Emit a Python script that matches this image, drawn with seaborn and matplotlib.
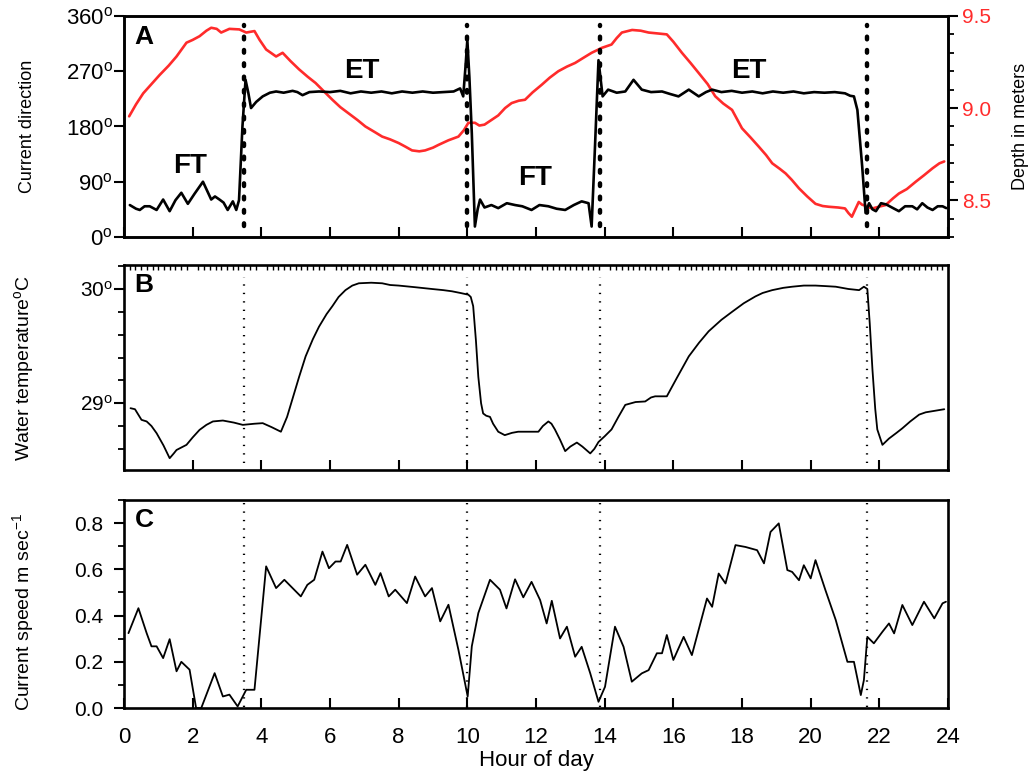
import numpy as np
import pandas as pd
import matplotlib
matplotlib.use("Agg")
import matplotlib.pyplot as plt
from matplotlib.ticker import MultipleLocator
import seaborn as sns

# ---- data ----
dir_hour = [0.17, 0.35, 0.46, 0.6, 0.75, 0.95, 1.14, 1.33, 1.5, 1.67, 1.86, 2.05, 2.3, 2.54, 2.65,
            2.78, 2.9, 3.02, 3.17, 3.27, 3.35, 3.45, 3.54, 3.62, 3.7, 3.85, 4.04, 4.25, 4.43, 4.65,
            4.91, 5.05, 5.2, 5.4, 5.68, 6.0, 6.3, 6.6, 6.9, 7.2, 7.5, 7.8, 8.1, 8.4, 8.7, 9.0, 9.3,
            9.6, 9.79, 9.88, 9.95, 10.0, 10.06, 10.13, 10.22, 10.3, 10.37, 10.5, 10.7, 10.9, 11.15,
            11.39, 11.6, 11.87, 12.1, 12.36, 12.6, 12.85, 13.1, 13.33, 13.53, 13.62, 13.72, 13.82,
            13.94, 14.1, 14.35, 14.6, 14.84, 15.08, 15.35, 15.67, 15.9, 16.15, 16.45, 16.74, 16.95,
            17.13, 17.4, 17.7, 18.0, 18.3, 18.6, 18.9, 19.2, 19.5, 19.8, 20.1, 20.4, 20.7, 21.0,
            21.15, 21.26, 21.36, 21.5, 21.6, 21.7, 21.8, 21.9, 22.05, 22.2, 22.4, 22.57, 22.75,
            22.96, 23.1, 23.25, 23.4, 23.55, 23.7, 23.84, 23.95]
dir_deg = [52, 46, 44, 50, 50, 44, 61, 42, 60, 72, 54, 70, 90, 61, 66,
           61, 56, 44, 58, 44, 60, 180, 256, 235, 210, 220, 229, 235, 237, 235,
           238, 236, 231, 236, 237, 236, 238, 234, 237, 235, 237, 234, 237, 235, 237, 235, 236,
           237, 242, 229, 280, 321, 260, 169, 17, 45, 61, 48, 52, 47, 55,
           52, 50, 44, 52, 50, 46, 44, 52, 58, 55, 17, 150, 288,
           229, 240, 235, 237, 256, 240, 236, 237, 233, 229, 240, 229, 236,
           240, 236, 238, 235, 237, 234, 237, 235, 237, 234, 236, 235, 236, 234,
           230, 229, 207, 115, 39, 55, 45, 42, 55, 53, 47, 42, 50,
           50, 45, 55, 48, 44, 50, 50, 47]

depth_hour = [0.15, 0.35, 0.56, 0.8, 1.04, 1.3, 1.53, 1.82, 2.0, 2.2, 2.4, 2.54, 2.7, 2.83, 3.07,
              3.36, 3.56, 3.8, 3.95, 4.14, 4.43, 4.62, 4.85, 5.1, 5.35, 5.58, 5.8, 6.07, 6.3, 6.55,
              6.8, 7.03, 7.3, 7.52, 7.75, 8.0, 8.2, 8.39, 8.6, 8.77, 9.0, 9.16, 9.45, 9.74, 9.9,
              10.03, 10.22, 10.35, 10.5, 10.7, 10.9, 11.1, 11.29, 11.5, 11.68, 11.9, 12.17, 12.4,
              12.65, 12.9, 13.14, 13.4, 13.62, 13.92, 14.2, 14.35, 14.5, 14.8, 15.05, 15.28, 15.55,
              15.81, 16.0, 16.25, 16.5, 16.74, 17.0, 17.22, 17.45, 17.71, 18.0, 18.25, 18.49, 18.7,
              18.88, 19.1, 19.27, 19.45, 19.66, 19.9, 20.14, 20.35, 20.53, 20.8, 21.0, 21.1, 21.2,
              21.3, 21.4, 21.5, 21.6, 21.7, 21.8, 22.0, 22.18, 22.4, 22.57, 22.8, 23.06, 23.3,
              23.55, 23.75, 23.89]
depth_m = [8.955, 9.02, 9.08, 9.13, 9.18, 9.23, 9.28, 9.355, 9.37, 9.39, 9.42, 9.436, 9.43, 9.41, 9.43,
           9.427, 9.41, 9.418, 9.37, 9.318, 9.28, 9.3, 9.255, 9.21, 9.17, 9.136, 9.095, 9.045, 9.005, 8.97,
           8.935, 8.9, 8.87, 8.845, 8.83, 8.81, 8.79, 8.77, 8.765, 8.77, 8.785, 8.8, 8.825, 8.845, 8.88,
           8.92, 8.92, 8.905, 8.91, 8.935, 8.96, 9.0, 9.027, 9.04, 9.045, 9.085, 9.127, 9.165,
           9.2, 9.225, 9.245, 9.275, 9.3, 9.327, 9.345, 9.38, 9.41, 9.424, 9.42, 9.41, 9.405,
           9.4, 9.36, 9.3, 9.245, 9.19, 9.13, 9.064, 9.025, 8.99, 8.89, 8.84, 8.79, 8.745,
           8.7, 8.67, 8.645, 8.61, 8.564, 8.52, 8.48, 8.468, 8.464, 8.46, 8.455, 8.43, 8.41,
           8.45, 8.49, 8.475, 8.47, 8.46, 8.455, 8.465, 8.473, 8.51, 8.536, 8.56, 8.6, 8.635,
           8.673, 8.7, 8.71]

temp_hour = [0.19, 0.32, 0.51, 0.66, 0.8, 0.95, 1.15, 1.33, 1.45, 1.53, 1.82, 2.0, 2.2, 2.4, 2.59,
             2.88, 3.2, 3.46, 3.8, 4.04, 4.3, 4.57, 4.75, 4.9, 5.1, 5.29, 5.5, 5.68, 5.9, 6.07, 6.25,
             6.45, 6.65, 6.84, 7.2, 7.52, 7.75, 8.0, 8.5, 8.97, 9.3, 9.55, 9.8, 10.03, 10.1, 10.17,
             10.25, 10.32, 10.4, 10.46, 10.55, 10.66, 10.75, 10.9, 11.09, 11.3, 11.48, 11.8, 12.07,
             12.2, 12.36, 12.45, 12.55, 12.7, 12.85, 13.0, 13.19, 13.35, 13.58, 13.7, 13.82, 14.0,
             14.2, 14.4, 14.6, 14.9, 15.18, 15.35, 15.47, 15.81, 16.1, 16.45, 16.75, 17.03, 17.4,
             17.71, 18.05, 18.39, 18.6, 18.88, 19.2, 19.46, 19.8, 20.14, 20.45, 20.73, 21.1, 21.41,
             21.55, 21.65, 21.72, 21.8, 21.88, 21.94, 22.09, 22.28, 22.5, 22.67, 22.9, 23.16, 23.35,
             23.55, 23.89]
temp_c = [28.956, 28.947, 28.854, 28.84, 28.8, 28.737, 28.63, 28.518, 28.56, 28.59, 28.635, 28.7, 28.766, 28.81, 28.84,
          28.848, 28.83, 28.81, 28.82, 28.825, 28.79, 28.75, 28.88, 29.03, 29.23, 29.41, 29.56, 29.67, 29.78, 29.85, 29.93,
          29.99, 30.03, 30.05, 30.055, 30.05, 30.035, 30.03, 30.015, 30.0, 29.99, 29.98, 29.965, 29.95, 29.93, 29.85,
          29.55, 29.23, 29.0, 28.91, 28.89, 28.88, 28.82, 28.75, 28.72, 28.74, 28.75, 28.75, 28.75,
          28.8, 28.84, 28.82, 28.77, 28.68, 28.58, 28.62, 28.655, 28.62, 28.56, 28.6, 28.66, 28.71,
          28.77, 28.88, 28.985, 29.01, 29.015, 29.05, 29.06, 29.06, 29.22, 29.41, 29.53, 29.63, 29.73,
          29.8, 29.875, 29.935, 29.965, 29.99, 30.01, 30.02, 30.03, 30.03, 30.025, 30.02, 30.0, 29.99,
          30.02, 30.0, 29.7, 29.29, 28.95, 28.77, 28.635, 28.69, 28.74, 28.78, 28.84, 28.9, 28.92,
          28.93, 28.947]

speed_hour = [0.13, 0.42, 0.66, 0.8, 0.95, 1.14, 1.33, 1.53, 1.67, 1.91, 2.1, 2.25, 2.64, 2.88, 3.07,
              3.31, 3.56, 3.8, 4.14, 4.43, 4.67, 4.91, 5.15, 5.34, 5.54, 5.78, 5.97, 6.16, 6.31, 6.5,
              6.79, 7.03, 7.32, 7.47, 7.71, 7.9, 8.24, 8.48, 8.77, 8.97, 9.21, 9.45, 9.74, 10.01,
              10.13, 10.32, 10.66, 10.95, 11.14, 11.39, 11.63, 11.87, 12.12, 12.31, 12.46, 12.7, 12.9,
              13.14, 13.33, 13.58, 13.82, 14.01, 14.3, 14.55, 14.79, 15.08, 15.28, 15.52, 15.67, 15.81,
              16.0, 16.3, 16.54, 16.98, 17.13, 17.32, 17.52, 17.81, 18.1, 18.44, 18.64, 18.83, 19.07,
              19.32, 19.46, 19.66, 19.8, 20.0, 20.14, 20.43, 20.73, 21.07, 21.26, 21.46, 21.55, 21.65,
              21.84, 22.09, 22.28, 22.43, 22.67, 22.96, 23.3, 23.6, 23.84, 23.94]
speed_ms = [0.324, 0.432, 0.324, 0.267, 0.267, 0.216, 0.298, 0.159, 0.2, 0.166, 0.0, 0.0, 0.151, 0.05, 0.058,
            0.007, 0.079, 0.079, 0.613, 0.519, 0.555, 0.519, 0.483, 0.533, 0.555, 0.677, 0.605, 0.634, 0.634, 0.706,
            0.577, 0.62, 0.533, 0.584, 0.483, 0.512, 0.454, 0.569, 0.483, 0.519, 0.375, 0.447, 0.252, 0.05,
            0.267, 0.411, 0.555, 0.512, 0.431, 0.557, 0.479, 0.546, 0.467, 0.366, 0.464, 0.301, 0.352,
            0.222, 0.265, 0.15, 0.027, 0.092, 0.352, 0.265, 0.114, 0.15, 0.164, 0.237, 0.237, 0.316,
            0.208, 0.308, 0.229, 0.474, 0.438, 0.582, 0.539, 0.705, 0.697, 0.683, 0.626, 0.762, 0.799,
            0.597, 0.589, 0.553, 0.618, 0.561, 0.64, 0.51, 0.381, 0.2, 0.2, 0.056, 0.121, 0.308,
            0.28, 0.33, 0.366, 0.323, 0.446, 0.359, 0.46, 0.388, 0.453, 0.46]

tide_change_hours = [3.5, 10.0, 13.85, 21.65]
tide_labels = ["FT", "ET", "FT", "ET"]
tide_label_hour = [1.92, 6.92, 11.97, 18.19]
tide_label_deg = [115, 270, 96, 270]

hour_ticks = list(range(0, 25, 2))
dir_ticks = [0, 90, 180, 270, 360]
dir_ticklabels = ["0$^{\\mathrm{o}}$", "90$^{\\mathrm{o}}$", "180$^{\\mathrm{o}}$",
                  "270$^{\\mathrm{o}}$", "360$^{\\mathrm{o}}$"]
depth_ticks = [8.5, 9.0, 9.5]
temp_ticks = [29, 30]
temp_ticklabels = ["29$^{\\mathrm{o}}$", "30$^{\\mathrm{o}}$"]
speed_ticks = [0.0, 0.2, 0.4, 0.6, 0.8]

dir_df = pd.DataFrame({"hour": dir_hour, "deg": dir_deg})
depth_df = pd.DataFrame({"hour": depth_hour, "depth": depth_m})
temp_df = pd.DataFrame({"hour": temp_hour, "temp": temp_c})
speed_df = pd.DataFrame({"hour": speed_hour, "speed": speed_ms})

# ---- style ----
sns.set_style("ticks")
plt.rcParams["font.family"] = ["Liberation Sans", "DejaVu Sans"]
plt.rcParams["mathtext.fontset"] = "custom"
plt.rcParams["mathtext.rm"] = "Liberation Sans"
plt.rcParams["mathtext.it"] = "Liberation Sans:italic"
plt.rcParams["mathtext.bf"] = "Liberation Sans:bold"
plt.rcParams["axes.linewidth"] = 1.9
plt.rcParams["text.color"] = "black"
plt.rcParams["axes.labelcolor"] = "black"
plt.rcParams["xtick.color"] = "black"
plt.rcParams["ytick.color"] = "black"

red = "#ff2b2b"
fig = plt.figure(figsize=(10.29, 7.79), dpi=100)
axA = fig.add_axes([0.1205, 0.6958, 0.8008, 0.2837])
axB = fig.add_axes([0.1205, 0.3967, 0.8008, 0.2631])
axC = fig.add_axes([0.1205, 0.0911, 0.8008, 0.2670])

for ax in (axA, axB, axC):
    ax.set_xlim(0, 24)
    ax.set_xticks(hour_ticks)
    ax.tick_params(axis="x", which="major", direction="in", length=7, width=1.5,
                   bottom=True, top=False, labelsize=16, pad=14)
    ax.tick_params(axis="y", which="major", direction="out", length=7, width=1.5)
    ax.tick_params(axis="y", which="minor", direction="out", length=4.5, width=1.3)
    for s in ax.spines.values():
        s.set_visible(True)
        s.set_color("black")

# Panel A
sns.lineplot(data=dir_df, x="hour", y="deg", ax=axA, color="black", linewidth=1.9)
axA.set_ylim(0, 360)
axA.set_yticks(dir_ticks)
axA.set_yticklabels(dir_ticklabels)
axA.tick_params(axis="y", labelsize=16, pad=1)
axA.tick_params(axis="x", labelbottom=False)
axA.set_xlabel("")
axA.set_ylabel("Current direction", fontsize=13)
axA.yaxis.set_label_coords(-0.107, 0.5)
for h in tide_change_hours:
    axA.axvline(h, ymin=0.05, ymax=0.96, color="black", linewidth=3.2,
                linestyle=(0, (0.6, 2.4)), dash_capstyle="round")
for lab, hx, dy in zip(tide_labels, tide_label_hour, tide_label_deg):
    axA.text(hx, dy, lab, ha="center", va="center", fontsize=20, fontweight="bold")
axA.text(0.013, 0.96, "A", transform=axA.transAxes, ha="left", va="top",
         fontsize=19, fontweight="bold")

axA2 = axA.twinx()
sns.lineplot(data=depth_df, x="hour", y="depth", ax=axA2, color=red, linewidth=1.9)
axA2.set_ylim(8.30, 9.5)
axA2.set_yticks(depth_ticks)
axA2.set_yticklabels([f"{v:.1f}" for v in depth_ticks])
axA2.yaxis.set_minor_locator(MultipleLocator(0.1))
axA2.tick_params(axis="y", which="major", direction="out", length=7, width=1.5,
                 labelsize=15, labelcolor=red, pad=3)
axA2.tick_params(axis="y", which="minor", direction="out", length=4.5, width=1.3)
axA2.set_ylabel("Depth in meters", fontsize=13)
axA2.yaxis.set_label_coords(1.078, 0.5)
axA.set_zorder(axA2.get_zorder() + 1)
axA.patch.set_visible(False)

# Panel B
sns.lineplot(data=temp_df, x="hour", y="temp", ax=axB, color="black", linewidth=1.3)
axB.set_ylim(28.415, 30.21)
axB.set_yticks(temp_ticks)
axB.set_yticklabels(temp_ticklabels)
axB.yaxis.set_minor_locator(MultipleLocator(0.2))
axB.xaxis.set_minor_locator(MultipleLocator(1 / 6))
axB.tick_params(axis="x", which="minor", direction="in", length=3.5, width=1.0,
                bottom=False, top=True)
axB.tick_params(axis="y", labelsize=15, pad=1)
axB.tick_params(axis="x", labelbottom=False)
axB.set_xlabel("")
axB.set_ylabel("Water temperature$^{\\mathrm{o}}$C", fontsize=14)
axB.yaxis.set_label_coords(-0.107, 0.5)
for h in tide_change_hours:
    axB.axvline(h, ymin=0.035, ymax=0.94, color="black", linewidth=1.6,
                linestyle=(0, (0.6, 3.2)))
axB.text(0.013, 0.96, "B", transform=axB.transAxes, ha="left", va="top",
         fontsize=19, fontweight="bold")

# Panel C
sns.lineplot(data=speed_df, x="hour", y="speed", ax=axC, color="black", linewidth=1.3)
axC.set_ylim(0, 0.9)
axC.set_yticks(speed_ticks)
axC.set_yticklabels([f"{v:.1f}" for v in speed_ticks])
axC.yaxis.set_minor_locator(MultipleLocator(0.1))
axC.tick_params(axis="y", labelsize=15, pad=8)
axC.set_xticklabels([str(h) for h in hour_ticks])
axC.set_ylabel("Current speed m sec$^{\\mathrm{-1}}$", fontsize=14)
axC.yaxis.set_label_coords(-0.107, 0.46)
axC.set_xlabel("Hour of day", fontsize=16)
axC.xaxis.set_label_coords(0.5, -0.2)
for h in tide_change_hours:
    axC.axvline(h, ymin=0.005, ymax=0.985, color="black", linewidth=1.6,
                linestyle=(0, (0.6, 3.2)))
axC.text(0.013, 0.96, "C", transform=axC.transAxes, ha="left", va="top",
         fontsize=19, fontweight="bold")

fig.savefig("out.png", dpi=100)
plt.close(fig)
